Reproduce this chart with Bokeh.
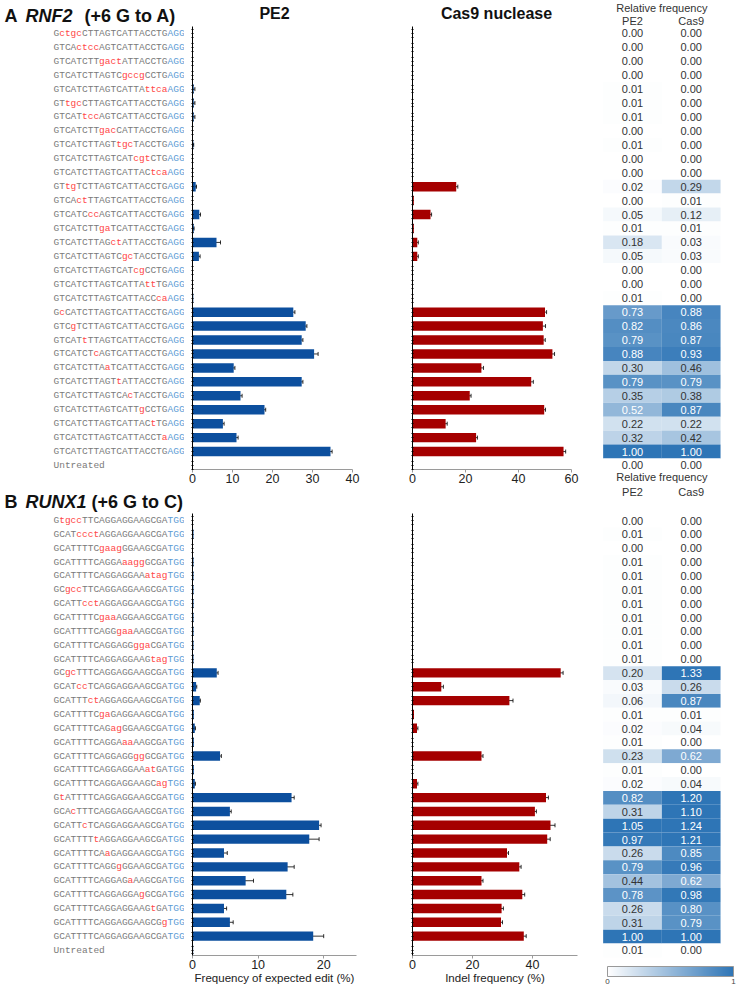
from bokeh.plotting import figure
from bokeh.layouts import row, column
from bokeh.models import (ColumnDataSource, Range1d, FixedTicker, Whisker, TeeHead,
                          LinearColorMapper, ColorBar)
from bokeh.core.properties import value
from bokeh.embed import file_html
from bokeh.resources import INLINE

# ---------------- data ----------------
a_title = ["A", "RNF2", "(+6 G to A)"]
b_title = ["B", "RUNX1", "(+6 G to C)"]

a_seqs = [
    "GctgcCTTAGTCATTACCTGAGG", "GTCActccAGTCATTACCTGAGG", "GTCATCTTgactATTACCTGAGG",
    "GTCATCTTAGTCgccgCCTGAGG", "GTCATCTTAGTCATTAttcaAGG", "GTtgcCTTAGTCATTACCTGAGG",
    "GTCATtccAGTCATTACCTGAGG", "GTCATCTTgacCATTACCTGAGG", "GTCATCTTAGTtgcTACCTGAGG",
    "GTCATCTTAGTCATcgtCTGAGG", "GTCATCTTAGTCATTACtcaAGG", "GTtgTCTTAGTCATTACCTGAGG",
    "GTCActTTAGTCATTACCTGAGG", "GTCATCccAGTCATTACCTGAGG", "GTCATCTTgaTCATTACCTGAGG",
    "GTCATCTTAGctATTACCTGAGG", "GTCATCTTAGTCgcTACCTGAGG", "GTCATCTTAGTCATcgCCTGAGG",
    "GTCATCTTAGTCATTAttTGAGG", "GTCATCTTAGTCATTACCcaAGG", "GcCATCTTAGTCATTACCTGAGG",
    "GTCgTCTTAGTCATTACCTGAGG", "GTCATtTTAGTCATTACCTGAGG", "GTCATCTcAGTCATTACCTGAGG",
    "GTCATCTTAaTCATTACCTGAGG", "GTCATCTTAGTtATTACCTGAGG", "GTCATCTTAGTCAcTACCTGAGG",
    "GTCATCTTAGTCATTgCCTGAGG", "GTCATCTTAGTCATTACtTGAGG", "GTCATCTTAGTCATTACCTaAGG",
    "GTCATCTTAGTCATTACCTGAGG", "Untreated"]
a_pe2 = [0, 0, 0, 0, 0.3, 0.3, 0.3, 0.05, 0.2, 0.05, 0.05, 0.8, 0.1, 1.7, 0.3, 6.0,
         1.6, 0.1, 0.1, 0.2, 25.2, 28.3, 27.3, 30.4, 10.3, 27.3, 12.0, 18.0, 7.6, 11.0, 34.5, 0.05]
a_pe2_sd = [0, 0, 0, 0, 0.3, 0.3, 0.3, 0, 0.1, 0, 0, 0.2, 0, 0.3, 0.1, 1.0,
            0.3, 0, 0, 0, 0.4, 0.3, 0.3, 1.0, 0.3, 0.3, 0.4, 0.3, 0.3, 0.4, 0.4, 0]
a_cas9 = [0, 0, 0, 0, 0, 0, 0, 0, 0, 0, 0, 16.5, 0.5, 6.8, 0.5, 1.8,
          1.8, 0, 0, 0.2, 50.0, 49.2, 49.5, 52.8, 26.0, 44.8, 21.6, 49.7, 12.5, 24.0, 57.0, 0]
a_cas9_sd = [0, 0, 0, 0, 0, 0, 0, 0, 0, 0, 0, 0.6, 0, 0.4, 0, 0.4,
             0.4, 0, 0, 0, 0.6, 1.0, 0.6, 0.8, 0.8, 0.8, 0.5, 0.5, 0.6, 0.5, 0.8, 0]
a_rel_pe2 = [0.00, 0.00, 0.00, 0.00, 0.01, 0.01, 0.01, 0.00, 0.01, 0.00, 0.00, 0.02, 0.00, 0.05,
             0.01, 0.18, 0.05, 0.00, 0.00, 0.01, 0.73, 0.82, 0.79, 0.88, 0.30, 0.79, 0.35, 0.52,
             0.22, 0.32, 1.00, 0.00]
a_rel_cas9 = [0.00, 0.00, 0.00, 0.00, 0.00, 0.00, 0.00, 0.00, 0.00, 0.00, 0.00, 0.29, 0.01, 0.12,
              0.01, 0.03, 0.03, 0.00, 0.00, 0.00, 0.88, 0.86, 0.87, 0.93, 0.46, 0.79, 0.38, 0.87,
              0.22, 0.42, 1.00, 0.00]
a_pe2_ticks = [0, 10, 20, 30, 40]
a_cas9_ticks = [0, 20, 40, 60]

b_seqs = [
    "GtgccTTCAGGAGGAAGCGATGG", "GCATccctAGGAGGAAGCGATGG", "GCATTTTCgaagGGAAGCGATGG",
    "GCATTTTCAGGAaaggGCGATGG", "GCATTTTCAGGAGGAAatagTGG", "GCgccTTCAGGAGGAAGCGATGG",
    "GCATTcctAGGAGGAAGCGATGG", "GCATTTTCgaaAGGAAGCGATGG", "GCATTTTCAGGgaaAAGCGATGG",
    "GCATTTTCAGGAGGggaCGATGG", "GCATTTTCAGGAGGAAGtagTGG", "GCgcTTTCAGGAGGAAGCGATGG",
    "GCATccTCAGGAGGAAGCGATGG", "GCATTTctAGGAGGAAGCGATGG", "GCATTTTCgaGAGGAAGCGATGG",
    "GCATTTTCAGagGGAAGCGATGG", "GCATTTTCAGGAaaAAGCGATGG", "GCATTTTCAGGAGGggGCGATGG",
    "GCATTTTCAGGAGGAAatGATGG", "GCATTTTCAGGAGGAAGCagTGG", "GtATTTTCAGGAGGAAGCGATGG",
    "GCAcTTTCAGGAGGAAGCGATGG", "GCATTcTCAGGAGGAAGCGATGG", "GCATTTTtAGGAGGAAGCGATGG",
    "GCATTTTCAaGAGGAAGCGATGG", "GCATTTTCAGGgGGAAGCGATGG", "GCATTTTCAGGAGaAAGCGATGG",
    "GCATTTTCAGGAGGAgGCGATGG", "GCATTTTCAGGAGGAAGtGATGG", "GCATTTTCAGGAGGAAGCGgTGG",
    "GCATTTTCAGGAGGAAGCGATGG", "Untreated"]
b_pe2 = [0, 0.15, 0, 0.15, 0.15, 0.15, 0.15, 0.15, 0.15, 0.15, 0.15, 3.7, 0.55, 1.1, 0.2, 0.35,
         0.2, 4.2, 0.2, 0.35, 15.1, 5.7, 19.3, 17.8, 4.8, 14.5, 8.1, 14.3, 4.8, 5.7, 18.4, 0.1]
b_pe2_sd = [0, 0, 0, 0, 0, 0, 0, 0, 0, 0, 0, 0.2, 0.1, 0.1, 0, 0.1,
            0, 0.2, 0, 0.1, 0.4, 0.2, 0.3, 1.5, 0.5, 1.0, 1.2, 1.0, 0.4, 0.5, 1.6, 0]
b_cas9 = [0, 0, 0, 0, 0, 0, 0, 0, 0, 0, 0, 49.4, 9.6, 32.3, 0.5, 1.5,
          0, 23.0, 0, 1.5, 44.5, 40.8, 46.0, 44.9, 31.5, 35.6, 23.0, 36.6, 29.7, 29.5, 37.1, 0]
b_cas9_sd = [0, 0, 0, 0, 0, 0, 0, 0, 0, 0, 0, 0.8, 0.7, 1.2, 0, 0.3,
             0, 0.5, 0, 0.3, 0.8, 0.5, 1.5, 1.0, 0.5, 0.6, 0.5, 0.8, 0.6, 0.5, 0.8, 0]
b_rel_pe2 = [0.00, 0.01, 0.00, 0.01, 0.01, 0.01, 0.01, 0.01, 0.01, 0.01, 0.01, 0.20, 0.03, 0.06,
             0.01, 0.02, 0.01, 0.23, 0.01, 0.02, 0.82, 0.31, 1.05, 0.97, 0.26, 0.79, 0.44, 0.78,
             0.26, 0.31, 1.00, 0.01]
b_rel_cas9 = [0.00, 0.00, 0.00, 0.00, 0.00, 0.00, 0.00, 0.00, 0.00, 0.00, 0.00, 1.33, 0.26, 0.87,
              0.01, 0.04, 0.00, 0.62, 0.00, 0.04, 1.20, 1.10, 1.24, 1.21, 0.85, 0.96, 0.62, 0.98,
              0.80, 0.79, 1.00, 0.00]
b_pe2_ticks = [0, 10, 20]
b_cas9_ticks = [0, 20, 40]

pe2_header = "PE2"
cas9_header = "Cas9 nuclease"
pe2_xlabel = "Frequency of expected edit (%)"
cas9_xlabel = "Indel frequency (%)"
heat_header = "Relative frequency"
heat_cols = ["PE2", "Cas9"]

# ---------------- layout constants (page pixels) ----------------
A_ROW0, A_SP = 32.8, 13.94
B_ROW0, B_SP = 520.0, 13.87
A_AXIS_GAP, B_AXIS_GAP = 4.0, 5.5
TOP, SPLIT, BOTTOM = 0, 490, 987
LAB_L, PE2_L, CAS_L, HEAT_L, RIGHT = 0, 184, 392, 592, 736
PE2_F0, CAS_F0 = 192, 412
A_PE2_F1, B_PE2_F1 = 352, 356
A_CAS_F1, B_CAS_F1 = 571, 577
SEQ_X0, CW = 53.0, 5.7
TITLE_X = {"A": [4, 25, 84], "B": [4, 25, 91]}
TITLE_SIZE = "18px"
HEAT_C0, HEAT_UNIT = 632.0, 58.7

SANS = "Liberation Sans"
MONO = "Liberation Mono"
GREY, RED, BLUE = "#7a7a7a", "#ff4747", "#5b9bd5"
PE2_COLOR, CAS_COLOR = "#0c4f9e", "#a50000"
HEAT_HI = (46, 117, 182)
PALETTE = ["#%02x%02x%02x" % tuple(int(round(255 + (c - 255) * i / 255)) for c in HEAT_HI)
           for i in range(256)]


def yrange(top_px, bot_px, row0, sp):
    return Range1d(start=(bot_px - row0) / sp, end=(top_px - row0) / sp)


def base_fig(w, h, xr, yr, **kw):
    p = figure(width=int(w), height=int(h), x_range=xr, y_range=yr, output_backend="svg",
               toolbar_location=None, **kw)
    p.outline_line_color = None
    p.grid.visible = False
    p.background_fill_color = None
    p.border_fill_color = None
    return p


def make_bars(vals, sd, ticks, xmax, fig_l, fig_r, f0, f1, row0, sp, gap, top, bot, color,
              header=None, header_px=None, xlabel=None):
    n = len(vals)
    frame_bot = row0 + (n - 1) * sp + gap
    p = base_fig(fig_r - fig_l, bot - top, Range1d(0, xmax), yrange(top, frame_bot, row0, sp),
                 min_border_left=f0 - fig_l, min_border_right=fig_r - f1,
                 min_border_top=0, min_border_bottom=int(round(bot - frame_bot)))
    rows = list(range(n))
    p.hbar(y=rows, left=0, right=vals, height=0.68, fill_color=color, line_color=None)
    er = [i for i in rows if sd[i] > 0]
    esrc = ColumnDataSource(dict(y=er, lo=[vals[i] - sd[i] for i in er],
                                 hi=[vals[i] + sd[i] for i in er]))
    p.add_layout(Whisker(source=esrc, base="y", lower="lo", upper="hi", dimension="width",
                         line_color="black", line_width=0.8,
                         upper_head=TeeHead(size=4, line_color="black", line_width=0.8),
                         lower_head=TeeHead(size=4, line_color="black", line_width=0.8)))
    xa = p.xaxis[0]
    xa.ticker = FixedTicker(ticks=ticks)
    xa.axis_line_color = "#9a9a9a"
    xa.major_tick_line_color = "#9a9a9a"
    xa.major_tick_in = 0
    xa.major_tick_out = 3
    xa.minor_tick_line_color = None
    xa.major_label_text_font = SANS
    xa.major_label_text_font_size = "12.5px"
    xa.major_label_text_color = "#222222"
    xa.major_label_standoff = 1
    if xlabel:
        xa.axis_label = xlabel
        xa.axis_label_text_font = SANS
        xa.axis_label_text_font_size = "11.5px"
        xa.axis_label_text_font_style = "normal"
        xa.axis_label_text_color = "#222222"
        xa.axis_label_standoff = 0
    # y axis: a plain line, one short tick per replicate position, no labels
    ya = p.yaxis[0]
    minor = []
    for r in rows:
        minor += [r - 0.28, r, r + 0.28]
    ya.ticker = FixedTicker(ticks=[], minor_ticks=minor)
    ya.bounds = (-0.5, n - 1 + gap / sp)
    ya.axis_line_color = "black"
    ya.minor_tick_line_color = "black"
    ya.minor_tick_in = 1
    ya.minor_tick_out = 1
    ya.major_label_standoff = 0
    if header:
        hx = (header_px - f0) / (f1 - f0) * xmax
        p.text(x=[hx], y=[(13 - row0) / sp], text=[header], text_font=value(SANS),
               text_font_size="16px", text_font_style="bold", text_align="center",
               text_baseline="middle", text_color="#111111")
    return p


def make_labels(seqs, title, bars, row0, sp, top, bot, title_px):
    p = base_fig(PE2_L - LAB_L, bot - top, Range1d(LAB_L, PE2_L), bars.y_range,
                 x_axis_type=None, y_axis_type=None,
                 min_border_left=0, min_border_right=0, min_border_top=bars.min_border_top,
                 min_border_bottom=bars.min_border_bottom)
    xs, ys, ts, cs = [], [], [], []
    for i, s in enumerate(seqs):
        if s == "Untreated":
            xs.append(SEQ_X0); ys.append(i); ts.append(s); cs.append(GREY)
            continue
        n = len(s)
        kinds = ["pam" if j >= n - 3 else ("mut" if s[j].islower() else "ref") for j in range(n)]
        j = 0
        while j < n:
            k = j
            while k < n and kinds[k] == kinds[j]:
                k += 1
            xs.append(SEQ_X0 + j * CW); ys.append(i); ts.append(s[j:k])
            cs.append({"pam": BLUE, "mut": RED, "ref": GREY}[kinds[j]])
            j = k
    p.text(x="x", y="y", text="t", text_color="c",
           source=ColumnDataSource(dict(x=xs, y=ys, t=ts, c=cs)),
           text_font=value(MONO), text_font_size="9.5px",
           text_baseline="middle", text_align="left")
    ty = (title_px - row0) / sp
    tx = TITLE_X[title[0]]
    styles = ["bold", "bold italic", "bold"]
    for k in range(3):
        p.text(x=[tx[k]], y=[ty], text=[title[k]], text_font=value(SANS),
               text_font_size=TITLE_SIZE, text_font_style=styles[k], text_baseline="middle",
               text_color="#111111")
    return p


def heat_panel(p, relp, relc, y_name, row0, sp, hdr1_px, hdr2_px):
    n = len(relp)
    xs = [0] * n + [1] * n
    ys = list(range(n)) * 2
    vs = relp + relc
    txt = ["%.2f" % v for v in vs]
    tc = ["white" if v >= 0.5 else "#333333" for v in vs]
    src = ColumnDataSource(dict(x=xs, y=ys, v=vs, t=txt, tc=tc))
    mapper = LinearColorMapper(palette=PALETTE, low=0, high=1, high_color=PALETTE[-1])
    p.rect(x="x", y="y", width=1, height=1, source=src, line_color=None,
           fill_color={"field": "v", "transform": mapper}, y_range_name=y_name)
    p.text(x="x", y="y", text="t", text_color="tc", source=src, text_font=value(SANS),
           text_font_size="11px", text_align="center", text_baseline="middle",
           y_range_name=y_name)
    p.text(x=[0.5], y=[(hdr1_px - row0) / sp], text=[heat_header], text_font=value(SANS),
           text_font_size="11px", text_align="center", text_baseline="middle",
           text_color="#333333", y_range_name=y_name)
    p.text(x=[0, 1], y=[(hdr2_px - row0) / sp] * 2, text=heat_cols, text_font=value(SANS),
           text_font_size="11px", text_align="center", text_baseline="middle",
           text_color="#333333", y_range_name=y_name)
    return mapper


# ---------------- panel A ----------------
pe2A = make_bars(a_pe2, a_pe2_sd, a_pe2_ticks, 40, PE2_L, CAS_L, PE2_F0, A_PE2_F1,
                 A_ROW0, A_SP, A_AXIS_GAP, TOP, SPLIT, PE2_COLOR, header=pe2_header, header_px=274)
casA = make_bars(a_cas9, a_cas9_sd, a_cas9_ticks, 60, CAS_L, HEAT_L, CAS_F0, A_CAS_F1,
                 A_ROW0, A_SP, A_AXIS_GAP, TOP, SPLIT, CAS_COLOR, header=cas9_header, header_px=496)
labA = make_labels(a_seqs, a_title, pe2A, A_ROW0, A_SP, TOP, SPLIT, 15)

# ---------------- panel B ----------------
pe2B = make_bars(b_pe2, b_pe2_sd, b_pe2_ticks, 25, PE2_L, CAS_L, PE2_F0, B_PE2_F1,
                 B_ROW0, B_SP, B_AXIS_GAP, SPLIT, BOTTOM, PE2_COLOR, xlabel=pe2_xlabel)
casB = make_bars(b_cas9, b_cas9_sd, b_cas9_ticks, 55, CAS_L, HEAT_L, CAS_F0, B_CAS_F1,
                 B_ROW0, B_SP, B_AXIS_GAP, SPLIT, BOTTOM, CAS_COLOR, xlabel=cas9_xlabel)
labB = make_labels(b_seqs, b_title, pe2B, B_ROW0, B_SP, SPLIT, BOTTOM, 502)

# ---------------- heat map column ----------------
heat = base_fig(RIGHT - HEAT_L, BOTTOM - TOP,
                Range1d((HEAT_L - HEAT_C0) / HEAT_UNIT, (RIGHT - HEAT_C0) / HEAT_UNIT),
                yrange(TOP, BOTTOM, A_ROW0, A_SP), x_axis_type=None, y_axis_type=None,
                min_border=0)
heat.extra_y_ranges = {"B": yrange(TOP, BOTTOM, B_ROW0, B_SP)}
mapper = heat_panel(heat, a_rel_pe2, a_rel_cas9, "default", A_ROW0, A_SP, 7.5, 20)
heat_panel(heat, b_rel_pe2, b_rel_cas9, "B", B_ROW0, B_SP, 476, 491)
cb = ColorBar(color_mapper=mapper, orientation="horizontal", width=126, height=10,
              location=(15, 1), padding=0, ticker=FixedTicker(ticks=[0, 1]),
              major_label_text_font_size="8px", major_label_text_font=SANS,
              major_tick_line_color=None, bar_line_color="#999999",
              border_line_color=None, background_fill_alpha=0, label_standoff=2)
heat.add_layout(cb)

layout = row(column(row(labA, pe2A, casA), row(labB, pe2B, casB)), heat)

open("out.html", "w").write(file_html(layout, INLINE))
